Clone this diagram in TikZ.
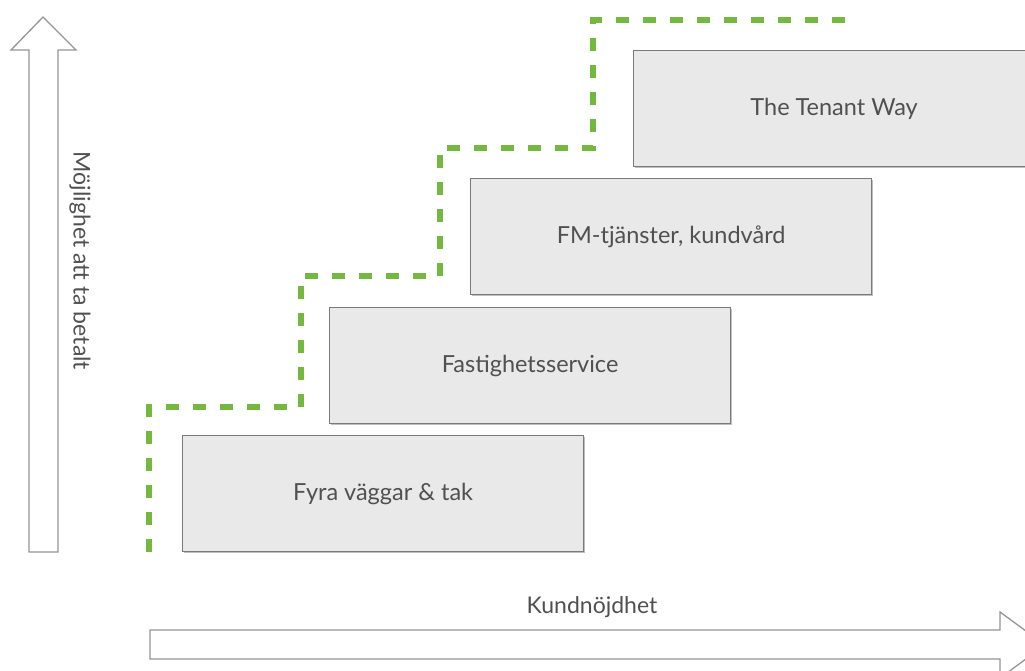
\documentclass[tikz,border=0pt]{standalone}
\usepackage{fontspec}
\setmainfont{Lato}
\usetikzlibrary{shadows}
\definecolor{stepfill}{HTML}{E9E9E9}
\definecolor{stepline}{HTML}{7A7A7A}
\definecolor{textgray}{HTML}{505050}
\definecolor{pathgreen}{HTML}{74B840}
\begin{document}
\begin{tikzpicture}[x=1pt,y=-1pt,
  stepbox/.style={draw=stepline,fill=stepfill,line width=1.2pt,
    minimum width=401pt,minimum height=116pt,anchor=north west,
    inner sep=0pt,text=textgray,font=\fontsize{23.5}{28}\selectfont,
    drop shadow={shadow xshift=1.5pt,shadow yshift=-1.5pt,opacity=0.25,fill=black}},
  axisarrow/.style={draw=stepline!80,fill=white,line width=1.3pt,line join=miter},
  axislabel/.style={text=textgray,font=\fontsize{23}{27}\selectfont,inner sep=0pt},
  greenpath/.style={draw=pathgreen,line width=6.5pt,dash pattern=on 13pt off 14pt}]
\useasboundingbox (0,0) rectangle (1025,671);
\clip (0,0) rectangle (1025,671);

% vertical axis arrow
\draw[axisarrow] (29,552) -- (29,50) -- (11,50) -- (43,17) -- (76,50) -- (58,50) -- (58,552) -- cycle;
\node[axislabel,rotate=-90] (ylab) at (80,261) {Möjlighet att ta betalt};

% horizontal axis arrow
\draw[axisarrow] (150,630) -- (1000,630) -- (1000,612) -- (1045,645) -- (1000,678) -- (1000,659) -- (150,659) -- cycle;
\node[axislabel] (xlab) at (592,607) {Kundnöjdhet};

% steps
\node[stepbox] (s1) at (182,435) {Fyra väggar \& tak};
\node[stepbox] (s2) at (329,307) {Fastighetsservice};
\node[stepbox] (s3) at (470,178) {FM-tjänster, kundvård};
\node[stepbox] (s4) at (633,50) {The Tenant Way};

% staircase
\draw[greenpath] (149,552) -- (149,407) -- (301,407) -- (301,276) -- (440,276) -- (440,148) -- (593,148) -- (593,20) -- (845,20);
\end{tikzpicture}
\end{document}
